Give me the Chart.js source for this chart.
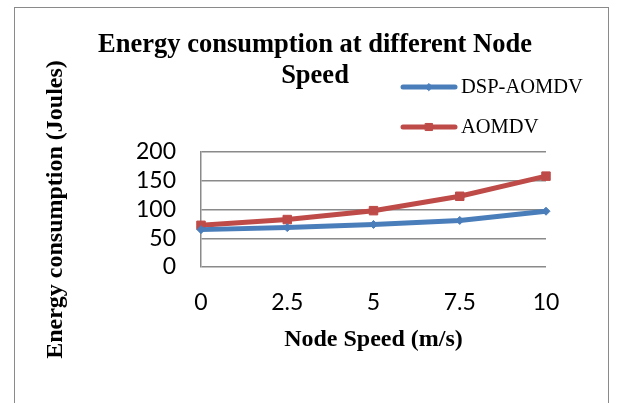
<!DOCTYPE html>
<html>
<head>
<meta charset="utf-8">
<script src="https://cdn.jsdelivr.net/npm/chart.js@4"></script>
<style>
  html, body { margin: 0; padding: 0; background: #fff; }
  #wrap { position: relative; width: 619px; height: 403px; overflow: hidden; }
  #frame { position: absolute; left: 14px; top: 7px; width: 595px; height: 420px; border: 1.5px solid #8a8a8a; box-sizing: border-box; }
  canvas { position: absolute; left: 0; top: 0; }
</style>
</head>
<body>
<div id="wrap">
  <div id="frame"></div>
  <canvas id="c" width="619" height="403"></canvas>
</div>
<script>
// Node speed categories (m/s)
const speeds = ['0', '2.5', '5', '7.5', '10'];
// Energy consumption (Joules) per protocol
const dspAomdv = [65, 68.5, 74, 81, 97];
const aomdv = [72.5, 82.5, 98, 123, 158];
const seriesNames = ['DSP-AOMDV', 'AOMDV'];
const yTicks = [0, 50, 100, 150, 200];

const titleLines = ['Energy consumption at different Node', 'Speed'];
const xTitle = 'Node Speed (m/s)';
const yTitle = 'Energy consumption (Joules)';

const BLUE = '#4a7ebb';
const RED = '#be4b48';
const GRID = '#8a8a8a';
const SERIF = '"Liberation Serif", "Times New Roman", serif';
const SANS = 'Lato, "Liberation Sans", Arial, sans-serif';

// Title and legend drawn on the canvas after the chart itself
const overlay = {
  id: 'overlay',
  afterDraw(chart) {
    const ctx = chart.ctx;
    ctx.save();
    ctx.fillStyle = '#000';
    ctx.textAlign = 'center';
    ctx.textBaseline = 'alphabetic';
    ctx.font = 'bold 26.5px ' + SERIF;
    ctx.fillText(titleLines[0], 315, 52);
    ctx.fillText(titleLines[1], 315, 83);

    const rows = [87, 127];
    const markerSize = [3.5, 5];
    chart.data.datasets.forEach((ds, i) => {
      const y = rows[i];
      ctx.strokeStyle = ds.borderColor;
      ctx.lineWidth = 5;
      ctx.lineCap = 'round';
      ctx.beginPath();
      ctx.moveTo(403, y);
      ctx.lineTo(455, y);
      ctx.stroke();
      ctx.fillStyle = ds.backgroundColor;
      ctx.strokeStyle = ds.borderColor;
      ctx.lineWidth = 1;
      Chart.helpers.drawPoint(ctx, {
        pointStyle: ds.pointStyle,
        radius: markerSize[i],
        borderWidth: 1
      }, 429, y);
      ctx.fillStyle = '#000';
      ctx.textAlign = 'left';
      ctx.textBaseline = 'middle';
      ctx.font = '20.5px ' + SERIF;
      ctx.fillText(ds.label, 461, y + 1);
    });
    ctx.restore();
  }
};

const yLeftPad = 41;
const plotLeft = 201, plotRight = 546, plotTop = 152, plotBottom = 267;
const xTitleBottom = 354;

new Chart(document.getElementById('c'), {
  type: 'line',
  data: {
    labels: speeds,
    datasets: [
      {
        label: seriesNames[0],
        data: dspAomdv,
        borderColor: BLUE,
        backgroundColor: BLUE,
        borderWidth: 5,
        pointStyle: 'rectRot',
        pointRadius: 4,
        pointBorderWidth: 1,
        tension: 0
      },
      {
        label: seriesNames[1],
        data: aomdv,
        borderColor: RED,
        backgroundColor: RED,
        borderWidth: 5,
        pointStyle: 'rect',
        pointRadius: 6,
        pointBorderWidth: 1,
        tension: 0
      }
    ]
  },
  plugins: [overlay],
  options: {
    responsive: false,
    animation: false,
    devicePixelRatio: 1,
    layout: {
      padding: { left: yLeftPad, top: plotTop, right: 619 - plotRight, bottom: 403 - xTitleBottom }
    },
    plugins: {
      legend: { display: false },
      title: { display: false },
      tooltip: { enabled: false }
    },
    scales: {
      x: {
        offset: false,
        grid: { display: false, drawTicks: false },
        border: { display: false },
        ticks: { color: '#000', font: { family: SANS, size: 23 }, padding: 22, maxRotation: 0, autoSkip: false },
        title: { display: true, text: xTitle, color: '#000', font: { family: SERIF, size: 24, weight: 'bold' }, padding: 0 },
        afterFit(s) { s.height = xTitleBottom - plotBottom; }
      },
      y: {
        min: 0,
        max: 200,
        afterBuildTicks(s) { s.ticks = yTicks.map(v => ({ value: v })); },
        grid: { color: GRID, lineWidth: 1.5, drawTicks: false },
        border: { display: true, color: GRID, width: 1.5 },
        ticks: { color: '#000', font: { family: SANS, size: 23 }, padding: 25, autoSkip: false },
        title: { display: true, text: yTitle, color: '#000', font: { family: SERIF, size: 24, weight: 'bold' }, padding: 0 },
        afterFit(s) { s.width = plotLeft - yLeftPad; }
      }
    }
  }
});
</script>
</body>
</html>
